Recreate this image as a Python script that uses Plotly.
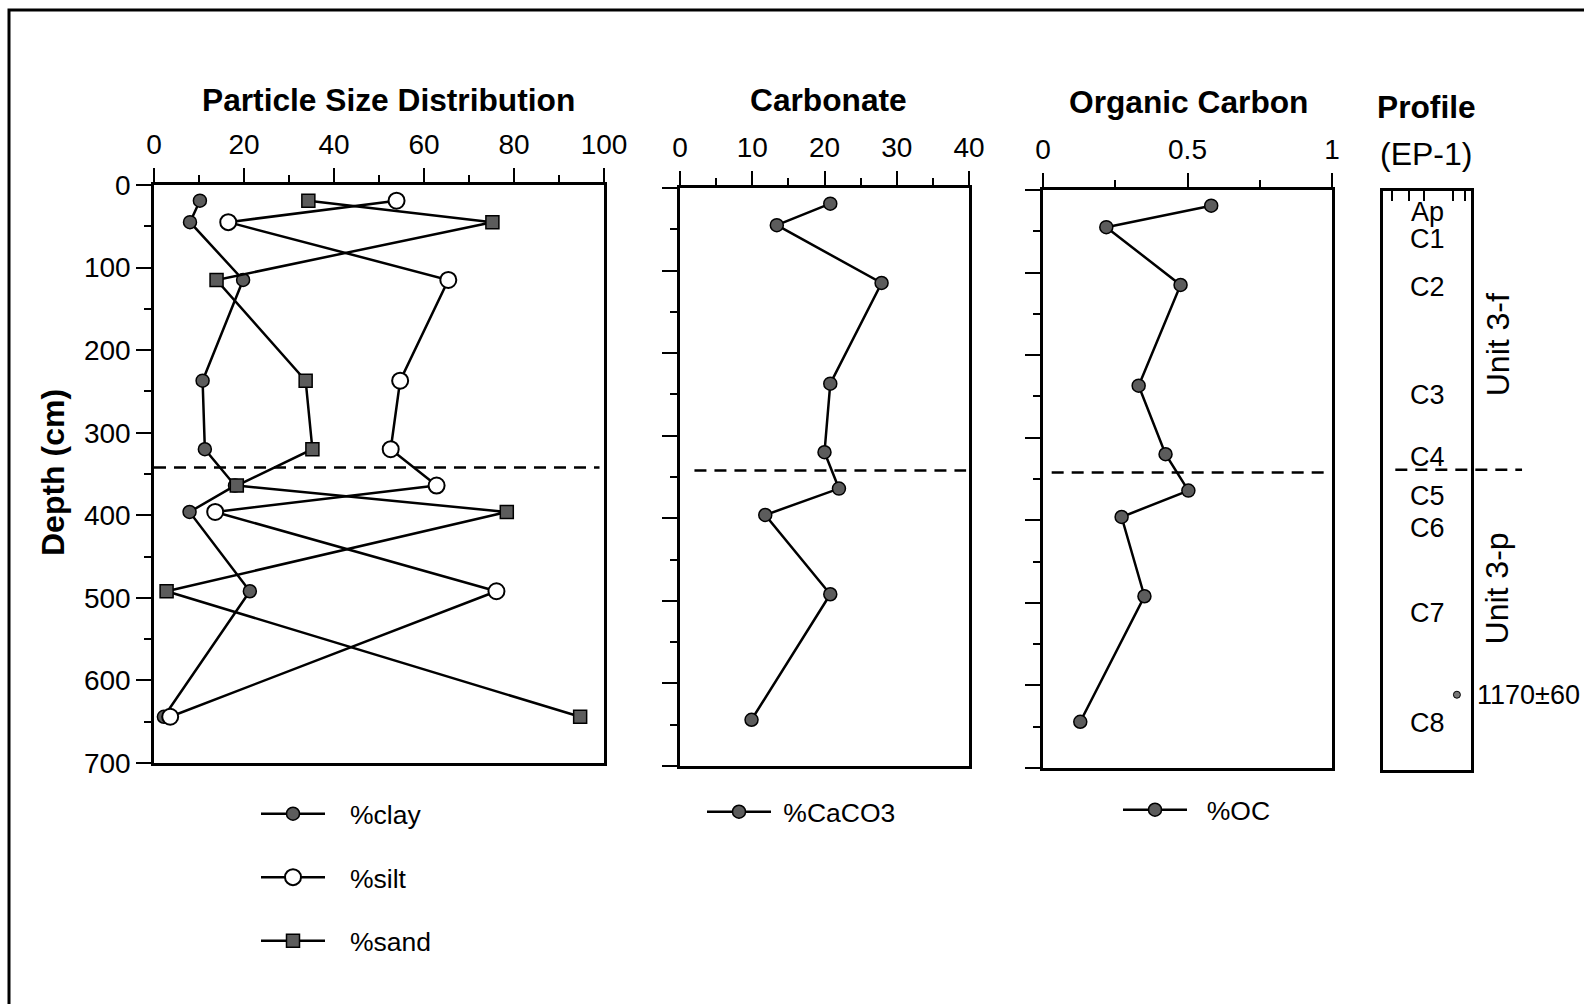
import plotly.graph_objects as go

# ---------------- data ----------------
depth = [19, 45, 115, 237, 320, 364, 396, 492, 644]          # cm
clay = [10.2, 8.0, 19.8, 10.8, 11.3, 18.0, 7.9, 21.3, 2.2]  # %
silt = [53.9, 16.5, 65.4, 54.7, 52.6, 62.8, 13.6, 76.1, 3.6]
sand = [34.3, 75.2, 13.9, 33.7, 35.2, 18.4, 78.4, 2.8, 94.7]
caco3 = [20.8, 13.4, 27.9, 20.8, 20.0, 22.0, 11.8, 20.8, 9.9]
oc = [0.582, 0.219, 0.476, 0.331, 0.424, 0.503, 0.272, 0.351, 0.129]

boundary_depth = 342

horizons = ["Ap", "C1", "C2", "C3", "C4", "C5", "C6", "C7", "C8"]
horizon_depth = [25, 58, 116, 247, 321, 369, 408, 510, 643]
units = ["Unit 3-f", "Unit 3-p"]
unit_depth = [186, 480]
date_label = "1170±60"
date_depth = 609

psd_ticks = [0, 20, 40, 60, 80, 100]
caco3_ticks = [0, 10, 20, 30, 40]
oc_ticks = [0, 0.5, 1]
oc_ticktext = ["0", "0.5", "1"]
depth_ticks = [0, 100, 200, 300, 400, 500, 600, 700]

# ---------------- style ----------------
FONT = "Liberation Sans, Arial, Helvetica, sans-serif"
W, H = 1584, 1004
GRAY = "#5c5c5c"
NB2 = "\u00a0\u00a0\u2009"  # gap between legend symbol and text
NB1 = "\u00a0"


def px_x(p):
    return p / W


def px_y(p):
    return 1 - p / H


fig = go.Figure()

line_style = dict(color="black", width=2.5)
fill_marker = dict(symbol="circle", size=13, color=GRAY, line=dict(color="black", width=1.5))
sq_marker = dict(symbol="square", size=13, color=GRAY, line=dict(color="black", width=1.5))

fig.add_trace(go.Scatter(x=clay, y=depth, mode="lines+markers", name=NB2 + "%clay",
                         line=line_style, marker=fill_marker, xaxis="x", yaxis="y",
                         legend="legend", legendgroup="clay"))
fig.add_trace(go.Scatter(x=silt, y=depth, mode="lines+markers", name=NB2 + "%silt",
                         line=line_style,
                         marker=dict(symbol="circle", size=16, color="white",
                                     line=dict(color="black", width=2)),
                         xaxis="x", yaxis="y", legend="legend", legendgroup="silt"))
fig.add_trace(go.Scatter(x=sand, y=depth, mode="lines+markers", name=NB2 + "%sand",
                         line=line_style, marker=sq_marker, xaxis="x", yaxis="y",
                         legend="legend", legendgroup="sand"))
fig.add_trace(go.Scatter(x=caco3, y=depth, mode="lines+markers", name=NB1 + "%CaCO3",
                         line=line_style, marker=fill_marker, xaxis="x2", yaxis="y2",
                         legend="legend2"))
fig.add_trace(go.Scatter(x=oc, y=depth, mode="lines+markers", name=NB1 + NB1 + "%OC",
                         line=line_style, marker=fill_marker, xaxis="x3", yaxis="y3",
                         legend="legend3"))
# radiocarbon sample location in the profile column
fig.add_trace(go.Scatter(x=[0.84], y=[date_depth], mode="markers", showlegend=False,
                         marker=dict(size=7, color="#777", line=dict(color="black", width=1)),
                         xaxis="x4", yaxis="y4"))

# domains in pixels
dom_y1 = [px_y(763), px_y(185)]
dom_y2 = [px_y(766), px_y(188)]
dom_y3 = [px_y(768), px_y(190)]
dom_y4 = [px_y(770), px_y(191)]
d1 = [px_x(154), px_x(604)]
d2 = [px_x(680), px_x(969)]
d3 = [px_x(1043), px_x(1332)]
d4 = [px_x(1383), px_x(1471)]

tickfont = dict(family=FONT, size=28, color="black")
common_x = dict(side="top", ticks="outside", ticklen=14, tickwidth=2, tickcolor="black",
                showline=True, linewidth=2.5, linecolor="black", mirror=True,
                showgrid=False, zeroline=False, tickfont=tickfont, ticklabelstandoff=3)
common_y = dict(autorange=False, range=[700, 0], ticks="outside", ticklen=15, tickwidth=2,
                tickcolor="black", showline=True, linewidth=2.5, linecolor="black",
                mirror=True, showgrid=False, zeroline=False, tickvals=depth_ticks,
                minor=dict(dtick=50, ticklen=7, tickwidth=1.5, tickcolor="black", ticks="outside"))

fig.update_layout(
    xaxis=dict(domain=d1, range=[0, 100], tickvals=psd_ticks, anchor="y",
               minor=dict(dtick=10, ticklen=7, tickwidth=1.5, tickcolor="black", ticks="outside"),
               **common_x),
    yaxis=dict(domain=dom_y1, anchor="x", showticklabels=True, tickfont=tickfont,
               ticklabelstandoff=0, **common_y),
    xaxis2=dict(domain=d2, range=[0, 40], tickvals=caco3_ticks, anchor="y2",
                minor=dict(dtick=5, ticklen=7, tickwidth=1.5, tickcolor="black", ticks="outside"),
                **common_x),
    yaxis2=dict(domain=dom_y2, anchor="x2", showticklabels=False, **common_y),
    xaxis3=dict(domain=d3, range=[0, 1], tickvals=oc_ticks, ticktext=oc_ticktext, anchor="y3",
                minor=dict(dtick=0.25, ticklen=7, tickwidth=1.5, tickcolor="black", ticks="outside"),
                **common_x),
    yaxis3=dict(domain=dom_y3, anchor="x3", showticklabels=False, **common_y),
    xaxis4=dict(domain=d4, range=[0, 1], anchor="y4", side="top", showline=True, linewidth=2.5,
                linecolor="black", mirror=True, showgrid=False, zeroline=False,
                ticks="inside", ticklen=10, tickwidth=2, tickcolor="black",
                tickvals=[0.1, 0.3, 0.47, 0.8, 0.93], showticklabels=False),
    yaxis4=dict(domain=dom_y4, anchor="x4", range=[700, 0], autorange=False, showline=True,
                linewidth=2.5, linecolor="black", mirror=True, showgrid=False, zeroline=False,
                showticklabels=False, ticks=""),
)

legend_common = dict(font=dict(family=FONT, size=26.5, color="black"), bgcolor="rgba(0,0,0,0)",
                     xanchor="left", yanchor="top", itemwidth=64, tracegroupgap=26,
                     orientation="v")
fig.update_layout(
    legend=dict(x=px_x(256), y=px_y(790), **legend_common),
    legend2=dict(x=px_x(702), y=px_y(788), **legend_common),
    legend3=dict(x=px_x(1118), y=px_y(786), **legend_common),
)

annotations = []
title_font = dict(family=FONT, size=31.7, color="black")
for txt, cx, cy in [("<b>Particle Size Distribution</b>", 388, 100),
                    ("<b>Carbonate</b>", 828, 100),
                    ("<b>Organic Carbon</b>", 1188, 102),
                    ("<b>Profile</b>", 1426, 107)]:
    annotations.append(dict(text=txt, x=px_x(cx), y=px_y(cy), xref="paper", yref="paper",
                            showarrow=False, xanchor="center", yanchor="middle", font=title_font))
annotations.append(dict(text="(EP-1)", x=px_x(1426), y=px_y(154), xref="paper", yref="paper",
                        showarrow=False, xanchor="center", yanchor="middle",
                        font=dict(family=FONT, size=32, color="black")))
annotations.append(dict(text="<b>Depth (cm)</b>", x=px_x(53), y=px_y(473), xref="paper",
                        yref="paper", showarrow=False, textangle=-90, xanchor="center",
                        yanchor="middle", font=dict(family=FONT, size=32, color="black")))
for h, d in zip(horizons, horizon_depth):
    annotations.append(dict(text=h, x=0.5, y=d, xref="x4 domain", yref="y4", showarrow=False,
                            xanchor="center", yanchor="middle",
                            font=dict(family=FONT, size=27, color="black")))
for u, d in zip(units, unit_depth):
    annotations.append(dict(text=u, x=1.30, y=d, xref="x4 domain", yref="y4", showarrow=False,
                            textangle=-90, xanchor="center", yanchor="middle",
                            font=dict(family=FONT, size=32, color="black")))
annotations.append(dict(text=date_label, x=1.05, y=date_depth, xref="x4 domain", yref="y4",
                        showarrow=False, xanchor="left", yanchor="middle",
                        font=dict(family=FONT, size=27, color="black")))

shapes = []
dash_line = dict(color="black", width=2.5, dash="12px,8px")
for xr, yr, x0, x1, yb in [("x domain", "y", 0.0, 0.99, boundary_depth),
                           ("x2 domain", "y2", 0.05, 0.99, boundary_depth),
                           ("x3 domain", "y3", 0.03, 0.99, boundary_depth),
                           ("x4 domain", "y4", 0.14, 1.58, boundary_depth - 5)]:
    shapes.append(dict(type="line", xref=xr, yref=yr, x0=x0, x1=x1, y0=yb,
                       y1=yb, line=dash_line))
# outer frame of the figure
shapes.append(dict(type="rect", xref="paper", yref="paper", x0=px_x(9), x1=1.02,
                   y0=-0.02, y1=px_y(10), line=dict(color="black", width=3)))

fig.update_layout(
    width=W, height=H, margin=dict(l=0, r=0, t=0, b=0, pad=0, autoexpand=False),
    paper_bgcolor="white", plot_bgcolor="white",
    annotations=annotations, shapes=shapes,
    font=dict(family=FONT, color="black"),
)

fig.write_html("out.html", config={"displayModeBar": False},
               post_script="document.body.style.margin='0';document.body.style.overflow='hidden';")
